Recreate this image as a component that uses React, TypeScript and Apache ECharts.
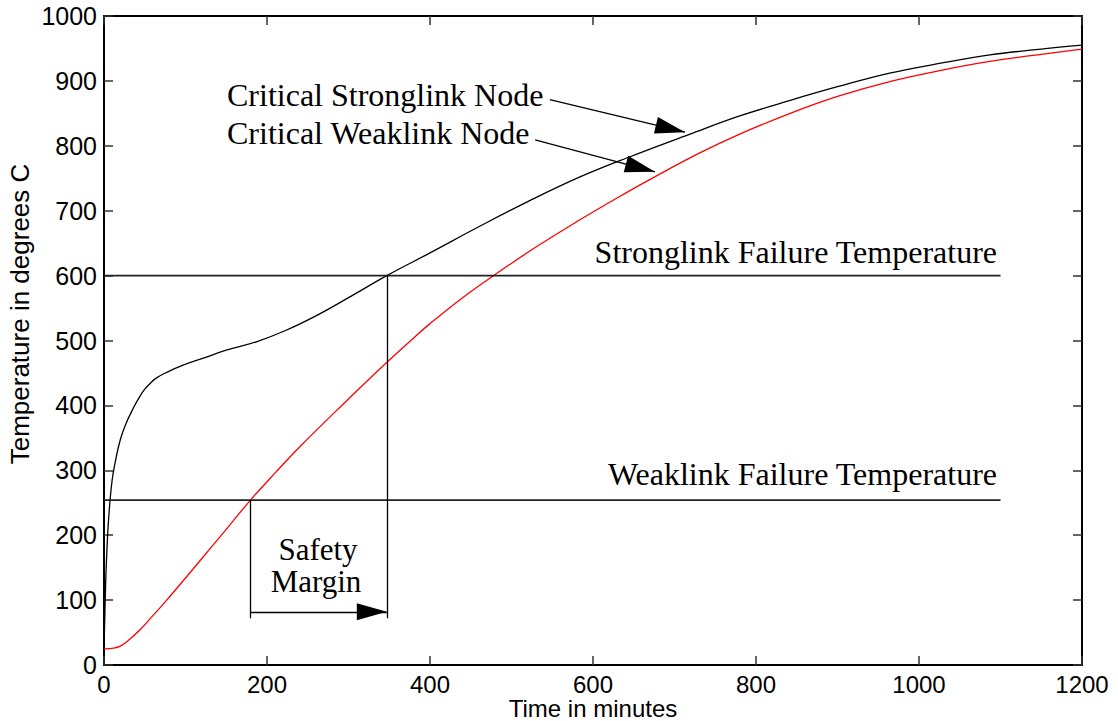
import React, { useEffect, useRef } from "react";
import * as echarts from "echarts";

// Time (minutes) and temperature (degrees C) of the critical stronglink node
const stronglinkTimes = [0, 1, 2, 3, 5, 7.5, 10, 13.5, 20, 27, 36, 44, 50, 56, 64, 77, 97, 120, 150, 187, 222, 260, 300, 347, 400, 461, 520, 584, 643, 719, 780, 842, 900, 964, 1030, 1087, 1150, 1200];
const stronglinkTemps = [25, 75, 125, 160, 212, 255, 285, 311, 347, 372, 396, 414, 425, 433, 442, 451, 462, 472, 485, 498, 515, 538, 566, 600, 635, 676, 714, 752, 782, 818, 846, 870, 891, 912, 928, 940, 949, 955];

// Time (minutes) and temperature (degrees C) of the critical weaklink node
const weaklinkTimes = [0, 12, 20, 28, 44, 60, 77, 100, 118, 150, 179, 210, 240, 300, 339, 380, 400, 440, 478, 530, 584, 630, 674, 731, 780, 842, 900, 964, 1030, 1087, 1150, 1200];
const weaklinkTemps = [25, 26, 29, 36, 54, 76, 100, 134, 161, 209, 253, 296, 336, 410, 457, 504, 526, 566, 600, 644, 686, 720, 751, 789, 818, 850, 876, 899, 917, 930, 941, 949];

// Failure thresholds (degrees C) and the time span over which they are drawn
const weaklinkFailureTemp = 254;
const stronglinkFailureTemp = 600;
const thresholdSpan = [0, 1100];

// Safety margin: weaklink failure time, stronglink failure time, arrow level, line foot
const safetyStart = 180;
const safetyEnd = 347;
const safetyArrowTemp = 82;
const safetyFootTemp = 72;

// Label pointers: [time, temp] tail -> head
const stronglinkPointer = [[547, 871], [713, 821]];
const weaklinkPointer = [[529, 809], [676, 760]];

const xTicks = { min: 0, max: 1200, interval: 200 };
const yTicks = { min: 0, max: 1000, interval: 100 };

const SANS = '"Liberation Sans", Arial, Helvetica, sans-serif';
const SERIF = '"Liberation Serif", "Times New Roman", Times, serif';

const zip = (a: number[], b: number[]) => a.map((v, i) => [v, b[i]]);

export default function App() {
  const ref = useRef<HTMLDivElement>(null);

  useEffect(() => {
    if (!ref.current) return;
    const chart = echarts.init(ref.current, null, { renderer: "svg" });

    const axisLine = { show: true, onZero: false, lineStyle: { color: "#000", width: 2 } };
    const axisTick = { show: true, inside: true, length: 9, lineStyle: { color: "#333", width: 1.5 } };
    const plainNumber = (v: number) => String(v);

    const arrowEnd = (from: number[], to: number[]) => [
      { coord: from, symbol: "none" },
      { coord: to, symbol: "triangle", symbolSize: [17, 30], symbolOffset: [0, 15] },
    ];

    const option: any = {
      animation: false,
      backgroundColor: "#fff",
      grid: { left: 104, right: 36, top: 16, bottom: 56, outerBoundsMode: "none" },
      xAxis: [
        {
          type: "value", position: "bottom", ...xTicks,
          axisLine, axisTick,
          splitLine: { show: false },
          axisLabel: { color: "#000", fontFamily: SANS, fontSize: 24, lineHeight: 24, margin: 7, formatter: plainNumber },
          name: "Time in minutes",
          nameLocation: "middle",
          nameGap: 32,
          nameMoveOverlap: false,
          nameTextStyle: { color: "#000", fontFamily: SANS, fontSize: 24, verticalAlign: "top", lineHeight: 23 },
        },
        {
          type: "value", position: "top", ...xTicks,
          axisLine, axisTick,
          splitLine: { show: false },
          axisLabel: { show: false },
        },
      ],
      yAxis: [
        {
          type: "value", position: "left", ...yTicks,
          axisLine, axisTick,
          splitLine: { show: false },
          axisLabel: { color: "#000", fontFamily: SANS, fontSize: 25, margin: 7, formatter: plainNumber },
        },
        {
          type: "value", position: "right", ...yTicks,
          axisLine, axisTick,
          splitLine: { show: false },
          axisLabel: { show: false },
        },
      ],
      series: [
        {
          name: "Critical Stronglink Node",
          type: "line",
          data: zip(stronglinkTimes, stronglinkTemps),
          showSymbol: false,
          smooth: 0.4,
          lineStyle: { color: "#000", width: 1.3 },
          z: 3,
        },
        {
          name: "Critical Weaklink Node",
          type: "line",
          data: zip(weaklinkTimes, weaklinkTemps),
          showSymbol: false,
          smooth: 0.4,
          lineStyle: { color: "#ff0000", width: 1.3 },
          z: 3,
        },
        {
          name: "Stronglink Failure Temperature",
          type: "line",
          data: thresholdSpan.map((t) => [t, stronglinkFailureTemp]),
          showSymbol: false,
          lineStyle: { color: "#222", width: 1.6 },
        },
        {
          name: "Weaklink Failure Temperature",
          type: "line",
          data: thresholdSpan.map((t) => [t, weaklinkFailureTemp]),
          showSymbol: false,
          lineStyle: { color: "#222", width: 1.6 },
        },
        {
          name: "Safety Margin",
          type: "line",
          data: [],
          markLine: {
            silent: true,
            animation: false,
            symbol: "none",
            label: { show: false },
            lineStyle: { color: "#000", width: 1.3, type: "solid" },
            data: [
              [{ coord: [safetyStart, weaklinkFailureTemp] }, { coord: [safetyStart, safetyFootTemp] }],
              [{ coord: [safetyEnd, stronglinkFailureTemp] }, { coord: [safetyEnd, safetyFootTemp] }],
            ],
          },
        },
        {
          name: "Pointers",
          type: "line",
          data: [],
          markLine: {
            silent: true,
            animation: false,
            label: { show: false },
            lineStyle: { color: "#000", width: 1.3, type: "solid" },
            itemStyle: { color: "#000" },
            data: [
              arrowEnd([safetyStart, safetyArrowTemp], [safetyEnd, safetyArrowTemp]),
              arrowEnd(stronglinkPointer[0], stronglinkPointer[1]),
              arrowEnd(weaklinkPointer[0], weaklinkPointer[1]),
            ],
          },
        },
      ],
      graphic: [
        {
          type: "text", x: 20, y: 314, rotation: Math.PI / 2,
          style: { text: "Temperature in degrees C", font: `26px ${SANS}`, fill: "#000", align: "center", verticalAlign: "middle" },
        },
        {
          type: "text", x: 227, y: 95,
          style: { text: "Critical Stronglink Node", font: `32px ${SERIF}`, fill: "#000", align: "left", verticalAlign: "middle" },
        },
        {
          type: "text", x: 227, y: 133,
          style: { text: "Critical Weaklink Node", font: `32px ${SERIF}`, fill: "#000", align: "left", verticalAlign: "middle" },
        },
        {
          type: "text", x: 997, y: 252,
          style: { text: "Stronglink Failure Temperature", font: `32px ${SERIF}`, fill: "#000", align: "right", verticalAlign: "middle" },
        },
        {
          type: "text", x: 997, y: 474,
          style: { text: "Weaklink Failure Temperature", font: `32px ${SERIF}`, fill: "#000", align: "right", verticalAlign: "middle" },
        },
        {
          type: "text", x: 318, y: 549,
          style: { text: "Safety", font: `31px ${SERIF}`, fill: "#000", align: "center", verticalAlign: "middle" },
        },
        {
          type: "text", x: 316, y: 581,
          style: { text: "Margin", font: `31px ${SERIF}`, fill: "#000", align: "center", verticalAlign: "middle" },
        },
      ],
    };

    chart.setOption(option);
    return () => chart.dispose();
  }, []);

  return (
    <div
      ref={ref}
      style={{ position: "absolute", left: 0, top: 0, width: 1118, height: 721, background: "#fff" }}
    />
  );
}
